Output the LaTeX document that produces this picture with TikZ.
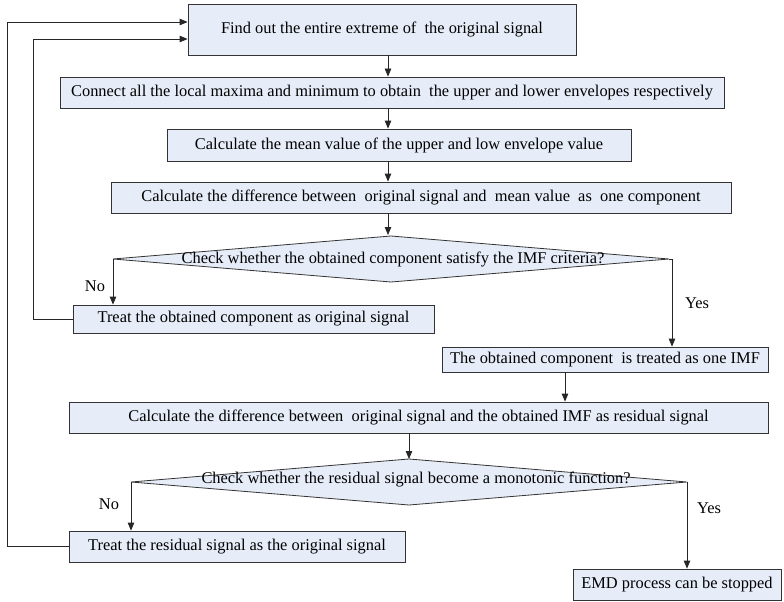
\documentclass[tikz,border=0pt]{standalone}
\usepackage{fontspec}
\setmainfont{Liberation Serif}
\usetikzlibrary{arrows.meta}
\definecolor{boxfill}{RGB}{231,237,248}
\begin{document}
\begin{tikzpicture}[x=1pt,y=-1pt,
  txt/.style={font=\fontsize{16.4}{19}\selectfont},
  box/.style={txt, draw=black!80, fill=boxfill, line width=0.8pt, inner sep=0pt},
  area/.style={inner sep=0pt, outer sep=0pt},
  lbl/.style={txt, inner sep=0pt},
  conn/.style={line width=0.8pt, draw=black!85},
  arr/.style={conn, -{Triangle[length=8pt,width=6.5pt]}},
  dia/.style={line width=0.8pt, draw=black!80, fill=boxfill}
]
\useasboundingbox (0,0) rectangle (784,602);

% boxes
\node[box, minimum width=388, minimum height=51] (b1) at (382,29.5) {Find out the entire extreme of\ \ the original signal};
\node[box, minimum width=664, minimum height=31] (b2) at (392,92.5) {Connect all the local maxima and minimum to obtain\ \ the upper and lower envelopes respectively};
\node[box, minimum width=464, minimum height=32] (b3) at (399,145) {Calculate the mean value of the upper and low envelope value};
\node[box, minimum width=620, minimum height=31] (b4) at (421,197.5) {Calculate the difference between\ \ original signal and\ \ mean value\ \ as\ \ one component};

% decision 1
\node[area, minimum width=556, minimum height=46] (d1) at (391,259) {};
\filldraw[dia] (d1.west) -- (d1.north) -- (d1.east) -- (d1.south) -- cycle;
\node[lbl] (d1t) at (393,259) {Check whether the obtained component satisfy the IMF criteria?};

\node[box, minimum width=361, minimum height=28] (b6) at (253.5,319) {Treat the obtained component as original signal};
\node[box, minimum width=326, minimum height=25] (b7) at (605,359.5) {The obtained component\ \ is treated as one IMF};
\node[box, minimum width=699, minimum height=31] (b8) at (418.5,417.5) {Calculate the difference between\ \ original signal and the obtained IMF as residual signal};

% decision 2
\node[area, minimum width=556, minimum height=46] (d2) at (409,482) {};
\filldraw[dia] (d2.west) -- (d2.north) -- (d2.east) -- (d2.south) -- cycle;
\node[lbl] (d2t) at (416,479) {Check whether the residual signal become a monotonic function?};

\node[box, minimum width=336, minimum height=31] (b10) at (237,546.5) {Treat the residual signal as the original signal};
\node[box, minimum width=208, minimum height=31] (b11) at (677,584.5) {EMD process can be stopped};

% labels
\node[lbl] (no1) at (95,286) {No};
\node[lbl] (yes1) at (697,303) {Yes};
\node[lbl] (no2) at (109,504) {No};
\node[lbl] (yes2) at (709,508) {Yes};

% helper coordinates
\coordinate (sp) at (388,0);
\coordinate (c78) at (565,0);
\coordinate (r1) at (33,39);
\coordinate (r2) at (7,22);

% connectors
\draw[arr] (b1.south -| sp) -- (b2.north -| sp);
\draw[arr] (b2.south -| sp) -- (b3.north -| sp);
\draw[arr] (b3.south -| sp) -- (b4.north -| sp);
\draw[arr] (b4.south -| sp) -- ([yshift=1]d1.north -| sp);
\draw[arr] (d1.west) -- (d1.west |- b6.north);
\draw[arr] (d1.east) -- ([xshift=3]d1.east) -- ([xshift=3]d1.east |- b7.north);
\draw[arr] (b7.south -| c78) -- (b8.north -| c78);
\draw[arr] (b8.south -| d2.north) -- (d2.north);
\draw[arr] (d2.west) -- (d2.west |- b10.north);
\draw[arr] (d2.east) -- (d2.east |- b11.north);
\draw[arr] (b6.west) -| (r1) -- (r1 -| b1.west);
\draw[arr] (b10.west) -| (r2) -- (r2 -| b1.west);
\end{tikzpicture}
\end{document}
